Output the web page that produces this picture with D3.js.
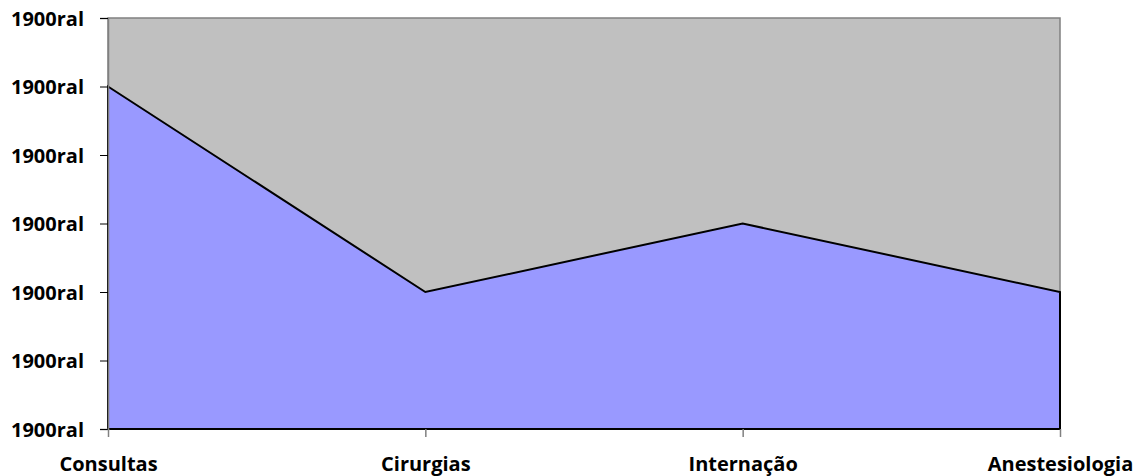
<!DOCTYPE html>
<html><head><meta charset="utf-8">
<script src="https://cdn.jsdelivr.net/npm/d3@7"></script>
<style>body{margin:0;background:#fff}text{font-family:"Open Sans",sans-serif;font-weight:bold;fill:#000}</style>
</head><body><svg id="c" width="1143" height="476"></svg>
<script>
const categories = ["Consultas","Cirurgias","Internação","Anestesiologia"];
const values = [5,2,3,2];
const yTicks = [0,1,2,3,4,5,6];
const yTickLabels = ["1900ral","1900ral","1900ral","1900ral","1900ral","1900ral","1900ral"];

const svg = d3.select("#c");
const m = {l:108, r:1060, t:18, b:429};
const x = d3.scalePoint().domain(categories).range([m.l, m.r]).padding(0);
const y = d3.scaleLinear().domain([0,6]).range([m.b, m.t]);

svg.append("rect").attr("x",m.l).attr("y",m.t).attr("width",m.r-m.l).attr("height",m.b-m.t)
  .attr("fill","#C0C0C0").attr("stroke","#808080").attr("stroke-width",1.5);

const area = d3.area().x((d,i)=>x(categories[i])).y0(y(0)).y1(d=>y(d));
svg.append("path").datum(values).attr("d",area).attr("fill","#9999FF")
  .attr("stroke","#000").attr("stroke-width",2).attr("stroke-linejoin","miter");

const ya = svg.append("g").attr("transform",`translate(${m.l},0)`)
  .call(d3.axisLeft(y).tickValues(yTicks).tickFormat((d,i)=>yTickLabels[i]).tickSize(8).tickPadding(16));
ya.select(".domain").attr("stroke","#808080").attr("stroke-width",1.5);
ya.selectAll(".tick line").attr("stroke","#000").attr("stroke-width",1);
ya.selectAll("text").style("font-size","20px").attr("fill","#000").attr("dy","0.36em");

const xa = svg.append("g").attr("transform",`translate(0,${m.b})`)
  .call(d3.axisBottom(x).tickSize(8).tickPadding(20));
xa.select(".domain").remove();
xa.selectAll(".tick line").attr("stroke","#808080").attr("stroke-width",1.5);
xa.selectAll("text").style("font-size","20px").attr("fill","#000");
</script></body></html>
